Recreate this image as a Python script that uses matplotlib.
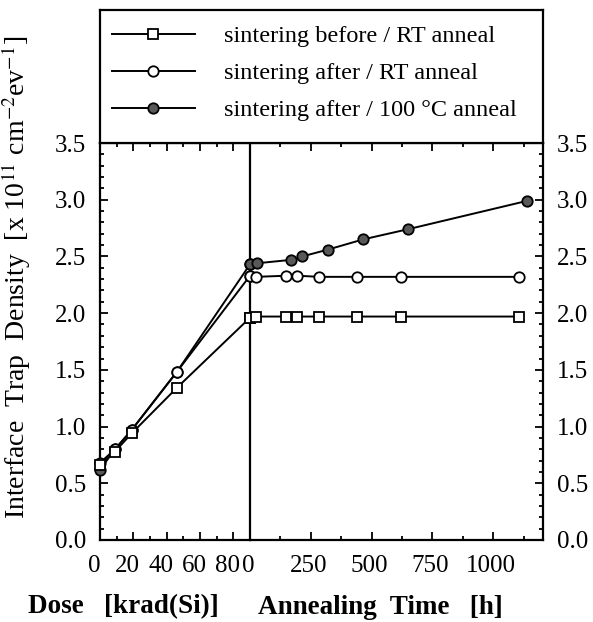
import matplotlib
matplotlib.use("Agg")
import matplotlib.pyplot as plt
import matplotlib.transforms as mtransforms
from matplotlib.ticker import MultipleLocator

plt.rcParams["font.family"] = ["Liberation Serif", "DejaVu Serif"]
plt.rcParams["mathtext.fontset"] = "stix"

# irradiation part, dose in krad(Si)
dose = [0, 9, 19, 46, 90]
before_rt_dose = [0.66, 0.78, 0.94, 1.34, 1.96]
after_rt_dose = [0.68, 0.80, 0.97, 1.48, 2.33]
after_100_dose = [0.62, 0.80, 0.97, 1.48, 2.43]

# annealing part, time in h (t = 0 is the end of irradiation)
time_rt = [0, 25, 150, 195, 285, 440, 620, 1105]
before_rt_anneal = [1.96, 1.97, 1.97, 1.97, 1.97, 1.97, 1.97, 1.97]
after_rt_anneal = [2.33, 2.32, 2.33, 2.33, 2.32, 2.32, 2.32, 2.32]
time_100 = [0, 30, 170, 215, 320, 465, 650, 1140]
after_100_anneal = [2.43, 2.44, 2.47, 2.50, 2.56, 2.65, 2.74, 2.99]

labels = ["sintering before / RT anneal",
          "sintering after / RT anneal",
          "sintering after / 100 °C anneal"]

W, H = 593, 622
fig = plt.figure(figsize=(W / 100, H / 100), dpi=100)

left, div, right = 100 / W, 250 / W, 543 / W
bottom, top = 1 - 540 / H, 1 - 143 / H

axL = fig.add_axes([left, bottom, div - left, top - bottom])
axR = fig.add_axes([div, bottom, right - div, top - bottom], sharey=axL)
axR.patch.set_visible(False)

line_kw = dict(color="black", lw=1.4, ms=7.5, mec="black", mew=1.3, clip_on=False)
styles = [dict(marker="s", mfc="white", zorder=5),
          dict(marker="o", mfc="white", zorder=4),
          dict(marker="o", mfc="#585858", zorder=3)]

dose_series = [before_rt_dose, after_rt_dose, after_100_dose]
anneal_series = [(time_rt, before_rt_anneal), (time_rt, after_rt_anneal),
                 (time_100, after_100_anneal)]

handles = []
for i in range(3):
    h, = axL.plot(dose, dose_series[i], **line_kw, **styles[i])
    axR.plot(anneal_series[i][0], anneal_series[i][1], **line_kw, **styles[i])
    handles.append(h)

axL.set_xlim(0, 90)
axR.set_xlim(0, 1205)
axL.set_ylim(0, 3.5)

axL.xaxis.set_major_locator(MultipleLocator(20))
axL.xaxis.set_minor_locator(MultipleLocator(10))
axR.xaxis.set_major_locator(MultipleLocator(250))
axR.xaxis.set_minor_locator(MultipleLocator(125))
axL.yaxis.set_major_locator(MultipleLocator(0.5))
axL.yaxis.set_minor_locator(MultipleLocator(0.1))
axL.yaxis.set_major_formatter(plt.FormatStrFormatter("%.1f"))

for ax in (axL, axR):
    ax.tick_params(which="both", direction="in", top=True, labelsize=18, width=1.3)
    ax.tick_params(which="major", length=6)
    ax.tick_params(which="minor", length=3)
    ax.tick_params(axis="x", pad=11)
    ax.tick_params(axis="y", pad=10)
    for s in ax.spines.values():
        s.set_linewidth(1.6)

axL.tick_params(axis="y", which="both", left=True, right=False)
axR.tick_params(axis="y", which="both", left=False, right=True,
                labelleft=False, labelright=True)
axR.spines["left"].set_visible(False)

# dose labels sit a little left of their ticks, as in the original
shift = mtransforms.ScaledTranslation(-6 / 100, 0, fig.dpi_scale_trans)
for lab in axL.get_xticklabels():
    lab.set_transform(lab.get_transform() + shift)
shift0 = mtransforms.ScaledTranslation(-2 / 100, 0, fig.dpi_scale_trans)
for lab in axR.get_xticklabels():
    lab.set_transform(lab.get_transform() + shift0)

# legend box sits on top of the plot frame
legax = fig.add_axes([left, top, right - left, 1 - 10 / H - top])
legax.set_xticks([])
legax.set_yticks([])
for s in legax.spines.values():
    s.set_linewidth(1.6)
legax.legend(handles, labels, loc="center left", bbox_to_anchor=(0.027, 0.525),
             frameon=False, fontsize=17.5, handlelength=3.4, handletextpad=1.2,
             labelspacing=0.62, borderpad=0, borderaxespad=0)

fig.text(16 / W, 1 - 277 / H,
         r"Interface  Trap  Density  [x 10$^{11}$ cm$^{-2}$ev$^{-1}$]",
         rotation=90, ha="center", va="center", fontsize=20)
fig.text(123 / W, 1 - 607 / H, "Dose   [krad(Si)]", ha="center", va="center",
         fontsize=19.5, fontweight="bold")
fig.text(380 / W, 1 - 607 / H, "Annealing  Time   [h]", ha="center", va="center",
         fontsize=19.5, fontweight="bold")

fig.savefig("out.png", dpi=100)
